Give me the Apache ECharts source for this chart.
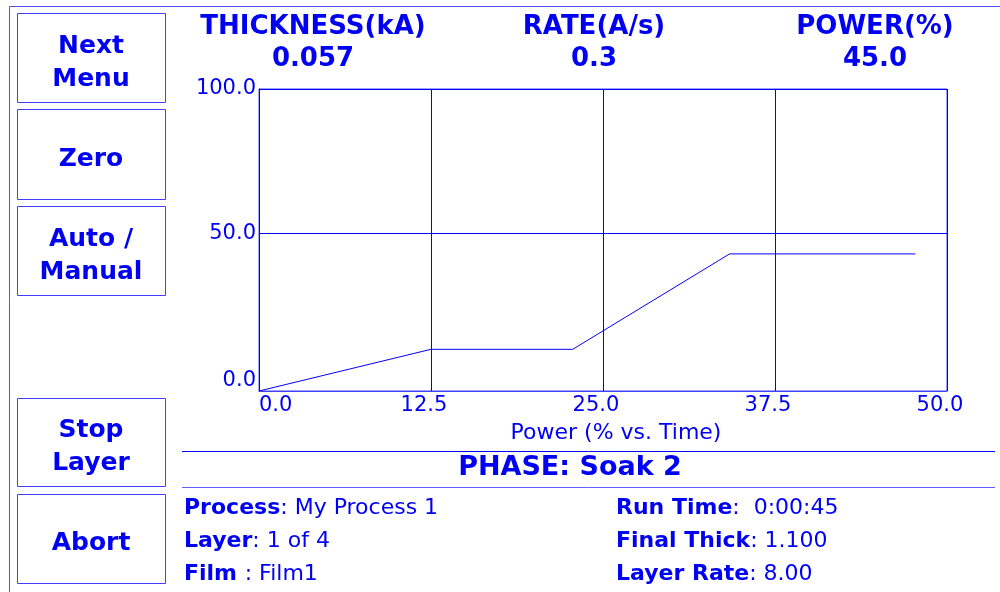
<!DOCTYPE html>
<html lang="en">

<head>
  <meta charset="UTF-8">
  <title>Layer Power</title>
  <script src="https://cdn.jsdelivr.net/npm/echarts@6/dist/echarts.min.js"></script>
  <style>
    html,
    body {
      margin: 0;
      padding: 0;
      width: 100%;
      height: 100%;
      background: #fff;
    }

    #chart {
      width: 1000px;
      height: 592px;
    }
  </style>
</head>

<body>
  <div id="chart"></div>

  <script>
    // power profile (time, power %)
    const timeValues = [0, 12.5, 22.8, 34.2, 47.7];
    const powerValues = [0, 13.2, 13.2, 43.4, 43.4];

    const xTicks = [0, 12.5, 25, 37.5, 50];
    const yTickLabels = ['0.0', '50.0', '100.0'];
    const yTop = 95.6; // top of the plot box sits a bit under 100 on this screen

    const headerNames = ['THICKNESS(kA)', 'RATE(A/s)', 'POWER(%)'];
    const headerValues = ['0.057', '0.3', '45.0'];

    const buttonLabels = ['Next\nMenu', 'Zero', 'Auto /\nManual', 'Stop\nLayer', 'Abort'];

    const phaseText = 'PHASE: Soak 2';
    const infoKeys = ['Process', 'Layer', 'Film ', 'Run Time', 'Final Thick', 'Layer Rate'];
    const infoValues = [': My Process 1', ': 1 of 4', ': Film1', ':  0:00:45', ': 1.100', ': 8.00'];

    const BLUE = '#0000f5';
    const FONT = 'DejaVu Sans';

    const chart = echarts.init(document.getElementById('chart'));

    // left hand buttons [top, bottom]
    const buttonBoxes = [
      [13, 102],
      [109, 199],
      [206, 295],
      [398, 486],
      [494, 583]
    ];

    let graphics = [];

    // outer frame (top and left edges only)
    graphics.push({
      type: 'polyline',
      shape: { points: [[9.5, 592], [9.5, 6.5], [1000, 6.5]] },
      style: { stroke: '#5050ff', lineWidth: 1, fill: null }
    });

    buttonLabels.forEach((label, i) => {
      const b = buttonBoxes[i];
      graphics.push({
        type: 'rect',
        shape: { x: 17.5, y: b[0] + 0.5, width: 148, height: b[1] - b[0] },
        style: { stroke: '#4040ff', lineWidth: 1, fill: null }
      });
      graphics.push({
        type: 'text',
        x: 91,
        y: (b[0] + b[1]) / 2 + 5,
        style: {
          text: label,
          font: 'bold 25px "' + FONT + '"',
          fill: BLUE,
          align: 'center',
          verticalAlign: 'middle',
          lineHeight: 33
        }
      });
    });

    // readouts above the plot
    const headerX = [313, 594, 875];
    headerNames.forEach((name, i) => {
      graphics.push({
        type: 'text',
        x: headerX[i],
        y: 27,
        style: {
          text: name,
          font: 'bold 26px "' + FONT + '"',
          fill: BLUE,
          align: 'center',
          verticalAlign: 'middle'
        }
      });
      graphics.push({
        type: 'text',
        x: headerX[i],
        y: 59,
        style: {
          text: headerValues[i],
          font: 'bold 26px "' + FONT + '"',
          fill: BLUE,
          align: 'center',
          verticalAlign: 'middle'
        }
      });
    });

    // phase band
    graphics.push({
      type: 'line',
      shape: { x1: 182, y1: 451.5, x2: 995, y2: 451.5 },
      style: { stroke: '#0000ff', lineWidth: 1 }
    });
    graphics.push({
      type: 'line',
      shape: { x1: 182, y1: 487.5, x2: 995, y2: 487.5 },
      style: { stroke: '#6060ff', lineWidth: 1 }
    });
    graphics.push({
      type: 'text',
      x: 570,
      y: 468,
      style: {
        text: phaseText,
        font: 'bold 27px "' + FONT + '"',
        fill: BLUE,
        align: 'center',
        verticalAlign: 'middle'
      }
    });

    // process info, two columns of three rows
    const rowY = [508, 541, 574];
    infoKeys.forEach((key, i) => {
      const col = Math.floor(i / 3);
      graphics.push({
        type: 'text',
        x: col === 0 ? 184 : 616,
        y: rowY[i % 3],
        style: {
          text: '{k|' + key + '}{v|' + infoValues[i] + '}',
          verticalAlign: 'middle',
          rich: {
            k: { font: 'bold 22px "' + FONT + '"', fill: BLUE, color: BLUE },
            v: { font: '22px "' + FONT + '"', fill: BLUE, color: BLUE }
          }
        }
      });
    });

    const option = {
      animation: false,
      backgroundColor: '#fff',
      grid: {
        left: 259,
        right: 53,
        top: 89,
        bottom: 201,
        show: true,
        borderColor: '#4040ff',
        borderWidth: 1,
        backgroundColor: 'transparent'
      },
      xAxis: {
        type: 'value',
        min: 0,
        max: 50,
        interval: 12.5,
        name: 'Power (% vs. Time)',
        nameLocation: 'middle',
        nameGap: 31,
        nameTextStyle: {
          color: BLUE,
          fontFamily: FONT,
          fontSize: 22,
          padding: [0, 0, 0, 26]
        },
        axisLine: { show: true, lineStyle: { color: '#4040ff', width: 1 } },
        axisTick: { show: false },
        axisLabel: {
          color: BLUE,
          fontFamily: FONT,
          fontSize: 21,
          margin: 4,
          padding: [0, 14, 0, 0],
          alignMinLabel: 'left',
          formatter: v => v.toFixed(1)
        },
        splitLine: { show: true, lineStyle: { color: '#0000ff', width: 1 } }
      },
      yAxis: {
        type: 'value',
        min: 0,
        max: yTop,
        interval: 50,
        axisLine: { show: true, lineStyle: { color: '#0000ff', width: 1 } },
        axisTick: { show: false },
        axisLabel: {
          color: BLUE,
          fontFamily: FONT,
          fontSize: 21,
          margin: 3,
          showMaxLabel: true,
          verticalAlignMinLabel: 'bottom',
          formatter: v => v >= yTop ? yTickLabels[2] : yTickLabels[Math.round(v / 50)]
        },
        splitLine: { show: true, lineStyle: { color: '#0000ff', width: 1 } }
      },
      series: [{
        type: 'line',
        data: timeValues.map((t, i) => [t, powerValues[i]]),
        symbol: 'none',
        lineStyle: { color: '#0000ff', width: 1 }
      }],
      graphic: graphics
    };

    chart.setOption(option);
  </script>
</body>

</html>
